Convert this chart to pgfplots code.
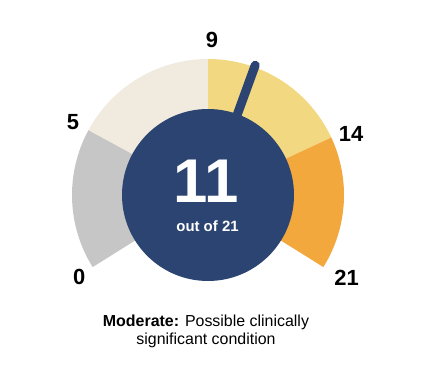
\documentclass[border=0pt]{standalone}
\usepackage{pgfplots}
\pgfplotsset{compat=1.18}
\usepackage{fontspec}
\setmainfont{Liberation Sans}
\definecolor{gGray}{HTML}{C6C6C6}
\definecolor{gBeige}{HTML}{F1EADF}
\definecolor{gYellow}{HTML}{F2D880}
\definecolor{gOrange}{HTML}{F2A83D}
\definecolor{gNavy}{HTML}{2B4471}
\begin{document}
\begin{tikzpicture}
\begin{axis}[width=424bp,height=378bp,scale only axis,
  xmin=0,xmax=424,ymin=0,ymax=378,hide axis,clip=false]
\path (axis cs:0,0) rectangle (axis cs:424,378);
% gauge bands: 0-5, 5-9, 9-14, 14-21 (angles in degrees)
\fill[gGray]   (axis cs:208,183) -- ++(212:136bp) arc[start angle=212,end angle=151.5,radius=136bp] -- cycle;
\fill[gBeige]  (axis cs:208,183) -- ++(151.5:136bp) arc[start angle=151.5,end angle=90,radius=136bp] -- cycle;
\fill[gYellow] (axis cs:208,183) -- ++(90:136bp) arc[start angle=90,end angle=25,radius=136bp] -- cycle;
\fill[gOrange] (axis cs:208,183) -- ++(25:136bp) arc[start angle=25,end angle=-32,radius=136bp] -- cycle;
% needle at value 11
\addplot[gNavy, line width=9bp, line cap=round] coordinates {(208,183) (255.2,312.7)};
\fill[gNavy] (axis cs:208,183) circle[radius=86bp];
% centre text
\node[anchor=base, text=white, font=\fontsize{62}{62}\selectfont\bfseries] at (axis cs:206,175.3) {11};
\node[anchor=base, text=white, font=\fontsize{15}{15}\selectfont\bfseries] at (axis cs:207.5,146.3) {out of 21};
% scale labels
\node[anchor=base, font=\fontsize{22}{22}\selectfont\bfseries] at (axis cs:79.3,93) {0};
\node[anchor=base, font=\fontsize{22}{22}\selectfont\bfseries] at (axis cs:73,248.7) {5};
\node[anchor=base, font=\fontsize{22}{22}\selectfont\bfseries] at (axis cs:212,330) {9};
\node[anchor=base, font=\fontsize{22}{22}\selectfont\bfseries] at (axis cs:351,236.3) {14};
\node[anchor=base, font=\fontsize{22}{22}\selectfont\bfseries] at (axis cs:346.5,92) {21};
% caption
\node[anchor=base, font=\fontsize{16}{16}\selectfont] at (axis cs:206,51.3) {\textbf{Moderate:} Possible clinically};
\node[anchor=base, font=\fontsize{16}{16}\selectfont] at (axis cs:206,33.7) {significant condition};
\end{axis}
\end{tikzpicture}
\end{document}
